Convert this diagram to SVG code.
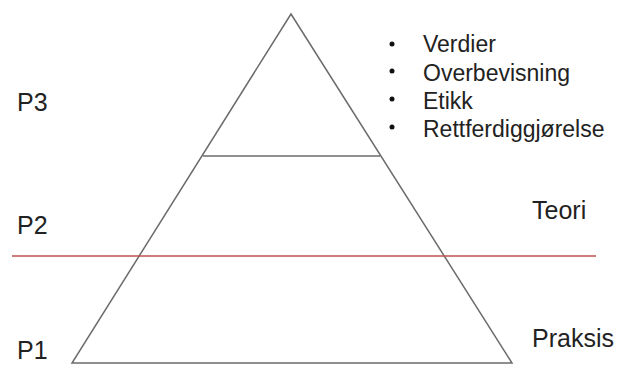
<svg xmlns="http://www.w3.org/2000/svg" width="618" height="365" viewBox="0 0 618 365">
<style>
.ln{stroke:#6b6b6b;stroke-width:1.5;fill:none}
.red{stroke:#c0504d;stroke-width:1.5}
.lbl{font-family:"Liberation Sans",Arial,sans-serif;font-size:25px;fill:#222}
.bl{font-family:"Liberation Sans",Arial,sans-serif;font-size:23px;fill:#222}
.dot{fill:#111}
</style>
<rect width="618" height="365" fill="#fff"/>
<g id="pyramid">
<polygon class="ln" points="291,14 72,363 512,363"/>
<line class="ln" x1="203" y1="156" x2="380" y2="156"/>
</g>
<g id="connectors">
<line class="red" x1="12" y1="256" x2="596" y2="256"/>
</g>
<g id="levels">
<text class="lbl" x="17" y="111">P3</text>
<text class="lbl" x="17" y="234">P2</text>
<text class="lbl" x="17" y="359">P1</text>
<text class="lbl" x="532" y="219">Teori</text>
<text class="lbl" x="532" y="347">Praksis</text>
</g>
<g id="list">
<circle class="dot" cx="392" cy="44" r="2.5"/>
<circle class="dot" cx="392" cy="71" r="2.5"/>
<circle class="dot" cx="392" cy="99" r="2.5"/>
<circle class="dot" cx="392" cy="127" r="2.5"/>
<text class="bl" x="423" y="52">Verdier</text>
<text class="bl" x="423" y="80.5">Overbevisning</text>
<text class="bl" x="423" y="108.5">Etikk</text>
<text class="bl" x="423" y="137">Rettferdiggjørelse</text>
</g>
</svg>
